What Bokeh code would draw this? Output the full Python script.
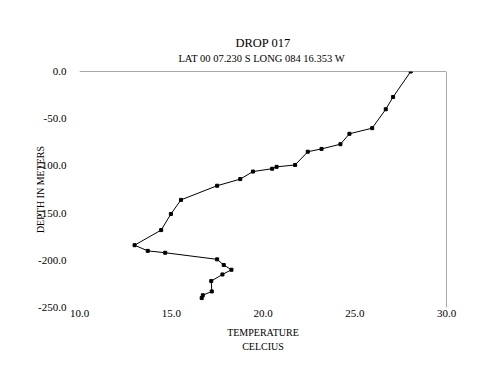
from bokeh.plotting import figure
from bokeh.models import Range1d, FixedTicker, NumeralTickFormatter, Span, Title, LinearAxis
from bokeh.embed import file_html
from bokeh.resources import INLINE

# Data
temperature = [28.05, 27.09, 26.69, 25.95, 24.71, 24.22, 23.19, 22.44, 21.75, 20.74,
               20.50, 19.45, 18.76, 17.50, 15.53, 14.98, 14.45, 13.00, 13.72, 14.67,
               17.50, 17.86, 18.28, 17.79, 17.18, 17.21, 16.72, 16.66]
depth = [0, -27, -40, -60, -66, -77, -82, -85, -99, -101,
         -103, -106, -114, -121, -136, -151, -168, -184, -190, -192,
         -199, -205, -210, -215, -222, -233, -237, -240]
x_ticks = [10, 15, 20, 25, 30]
y_ticks = [0, -50, -100, -150, -200, -250]

title_text = "DROP 017"
subtitle_text = "LAT 00 07.230 S  LONG 084 16.353 W"
FONT = "Liberation Serif"

p = figure(width=484, height=370, output_backend="svg", toolbar_location=None,
           x_range=Range1d(10, 30), y_range=Range1d(-250, 0),
           min_border_left=79, min_border_right=38, min_border_top=71, min_border_bottom=63)
p.outline_line_color = None
p.grid.grid_line_color = None
p.background_fill_color = "white"
p.border_fill_color = "white"

bottom_axis = p.below[0]
left_axis = p.left[0]

# frame lines: top (axis at depth 0) and right border
p.add_layout(Span(location=0, dimension="width", line_color="#555555", line_width=1))
p.add_layout(Span(location=30, dimension="height", line_color="#555555", line_width=1))

p.line(temperature, depth, line_color="black", line_width=1)
p.scatter(temperature, depth, marker="square", size=3, fill_color="black", line_color="black")

# subtitle carried by an empty axis above the frame
top_axis = LinearAxis(ticker=FixedTicker(ticks=[]), axis_label=subtitle_text)
p.add_layout(top_axis, "above")

for ax in (bottom_axis, left_axis, top_axis):
    ax.axis_line_color = None
    ax.major_tick_line_color = None
    ax.minor_tick_line_color = None
    ax.major_tick_out = 0
    ax.major_tick_in = 0
    ax.minor_tick_out = 0
    ax.minor_tick_in = 0
    ax.major_label_text_font = FONT
    ax.major_label_text_font_size = "11px"
    ax.major_label_text_color = "black"
    ax.axis_label_text_font = FONT
    ax.axis_label_text_font_size = "10px"
    ax.axis_label_text_font_style = "normal"
    ax.axis_label_text_color = "black"
    ax.formatter = NumeralTickFormatter(format="0.0")

top_axis.major_label_standoff = 0
top_axis.axis_label_standoff = 8
top_axis.axis_label_text_font_size = "10.5px"

bottom_axis.ticker = FixedTicker(ticks=x_ticks)
left_axis.ticker = FixedTicker(ticks=y_ticks)
bottom_axis.major_label_standoff = 2
bottom_axis.axis_label = "TEMPERATURE"
bottom_axis.axis_label_standoff = 7
left_axis.major_label_standoff = 13
left_axis.axis_label = "DEPTH IN METERS"
left_axis.axis_label_standoff = -11

p.add_layout(Title(text="CELCIUS", align="center", text_font=FONT, text_font_size="10px",
                   text_font_style="normal", text_color="black", standoff=-4), "below")

p.add_layout(Title(text=title_text, align="center", vertical_align="middle",
                   text_font=FONT, text_font_size="12.5px",
                   text_font_style="normal", text_color="black", standoff=-3), "above")

open("out.html", "w").write(file_html(p, INLINE))
